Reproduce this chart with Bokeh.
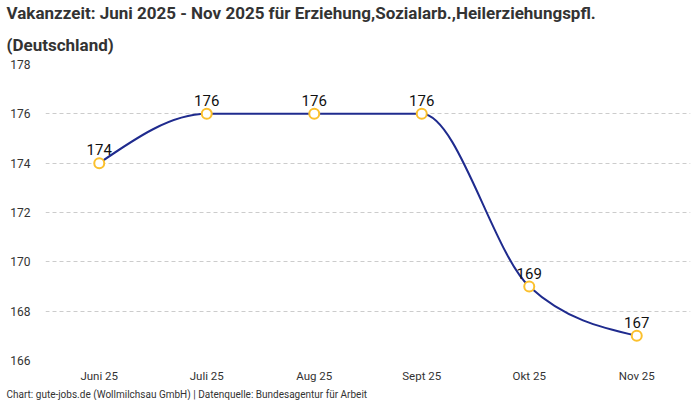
import numpy as np

from bokeh.plotting import figure
from bokeh.models import ColumnDataSource, FixedTicker, Title, LabelSet
from bokeh.core.properties import value
from bokeh.embed import file_html
from bokeh.resources import INLINE

months = ["Juni 25", "Juli 25", "Aug 25", "Sept 25", "Okt 25", "Nov 25"]
vakanz = [174, 176, 176, 176, 169, 167]
y_ticks = [166, 168, 170, 172, 174, 176, 178]

title_line1 = "Vakanzzeit: Juni 2025 - Nov 2025 für Erziehung,Sozialarb.,Heilerziehungspfl."
title_line2 = "(Deutschland)"
source_note = "Chart: gute-jobs.de (Wollmilchsau GmbH) | Datenquelle: Bundesagentur für Arbeit"

FONT = "Roboto"
LINE_COLOR = "#1f2b8e"
POINT_COLOR = "#fbc02d"


def monotone_x_segments(xs, ys):
    # same curve as d3.curveMonotoneX, returned as cubic bezier segments
    xs = np.asarray(xs, dtype=float)
    ys = np.asarray(ys, dtype=float)
    n = len(xs)
    h = np.diff(xs)
    s = np.diff(ys) / h
    t = np.zeros(n)
    for i in range(1, n - 1):
        p = (s[i - 1] * h[i] + s[i] * h[i - 1]) / (h[i - 1] + h[i])
        t[i] = (np.sign(s[i - 1]) + np.sign(s[i])) * min(abs(s[i - 1]), abs(s[i]), 0.5 * abs(p))
    t[0] = (3 * s[0] - t[1]) / 2
    t[-1] = (3 * s[-1] - t[-2]) / 2
    seg = dict(x0=[], y0=[], x1=[], y1=[], cx0=[], cy0=[], cx1=[], cy1=[])
    for i in range(n - 1):
        dx = h[i] / 3
        seg["x0"].append(xs[i])
        seg["y0"].append(ys[i])
        seg["x1"].append(xs[i + 1])
        seg["y1"].append(ys[i + 1])
        seg["cx0"].append(xs[i] + dx)
        seg["cy0"].append(ys[i] + dx * t[i])
        seg["cx1"].append(xs[i + 1] - dx)
        seg["cy1"].append(ys[i + 1] - dx * t[i + 1])
    return seg


xpos = list(range(len(months)))
src = ColumnDataSource(data=dict(x=xpos, y=vakanz, lbl=[str(v) for v in vakanz]))

p = figure(width=700, height=400, x_range=(-0.5, len(months) - 0.5), y_range=(166, 178),
           output_backend="svg", toolbar_location=None, title=None,
           min_border_left=45, min_border_right=10, min_border_top=0, min_border_bottom=0)
p.outline_line_color = None
p.background_fill_color = "white"

# second title line sits next to the frame, first line above it
for txt, standoff in ((title_line2, 20), (title_line1, 0)):
    p.add_layout(Title(text=txt, text_font=FONT, text_font_size="17px",
                       text_font_style="bold", text_color="#333333",
                       align="left", offset=-39, standoff=standoff), "above")

footer = Title(text=source_note, text_font=FONT, text_font_size="10px",
               text_font_style="normal", text_color="#333333",
               align="left", offset=-39, standoff=2)
p.add_layout(footer, "below")

seg = monotone_x_segments(xpos, vakanz)
p.bezier(x0=seg["x0"], y0=seg["y0"], x1=seg["x1"], y1=seg["y1"],
         cx0=seg["cx0"], cy0=seg["cy0"], cx1=seg["cx1"], cy1=seg["cy1"],
         line_color=LINE_COLOR, line_width=2)
p.scatter("x", "y", source=src, size=10, fill_color="white",
          line_color=POINT_COLOR, line_width=2)

labels = LabelSet(x="x", y="y", text="lbl", source=src, y_offset=8,
                  text_align="center", text_baseline="bottom",
                  text_font=value(FONT), text_font_size="15px", text_font_style="normal",
                  text_color="#111111")
p.add_layout(labels)

p.xaxis.ticker = FixedTicker(ticks=xpos)
p.xaxis.major_label_overrides = {i: m for i, m in enumerate(months)}
p.yaxis.ticker = FixedTicker(ticks=y_ticks)
for ax in (p.xaxis, p.yaxis):
    ax.axis_line_color = None
    ax.major_tick_line_color = None
    ax.minor_tick_line_color = None
    ax.major_tick_out = 0
    ax.major_tick_in = 0
    ax.minor_tick_out = 0
    ax.major_label_text_font = FONT
    ax.major_label_text_color = "#333333"
p.xaxis.major_label_text_font_size = "11.5px"
p.yaxis.major_label_text_font_size = "12px"
p.yaxis.major_label_standoff = 15
p.xaxis.major_label_standoff = 8

p.xgrid.grid_line_color = None
p.ygrid.grid_line_color = "#cccccc"
p.ygrid.grid_line_dash = "4 3"
p.ygrid.grid_line_width = 1

open("out.html", "w").write(file_html(p, INLINE))
